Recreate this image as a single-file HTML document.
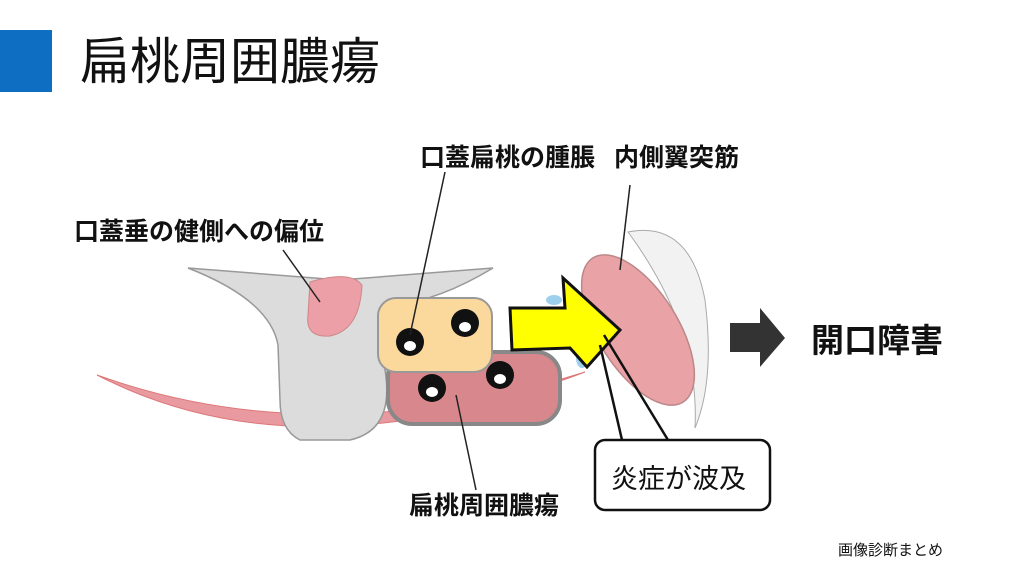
<!DOCTYPE html>
<html><head><meta charset="utf-8"><style>
body{margin:0;width:1024px;height:576px;background:#fff;overflow:hidden;font-family:"Liberation Sans","Noto Sans CJK JP",sans-serif}
</style></head><body>
<svg width="1024" height="576" viewBox="0 0 1024 576" xmlns="http://www.w3.org/2000/svg" style="position:absolute;left:0;top:0">
<rect x="0" y="30" width="52" height="62" fill="#0e6ec2"/>
<text x="80" y="79" font-size="50" fill="#111" font-family="Noto Sans CJK JP, sans-serif">扁桃周囲膿瘍</text>
<path d="M97,375 Q300,480 585,372 Q320,455 97,375Z" fill="#e99aa0" stroke="#d77" stroke-width="1"/>
<path d="M188,268 L340,280 L493,268 Q440,300 395,305 Q375,330 385,370 Q395,430 350,440 L300,440 Q280,430 280,400 L278,345 Q270,300 188,268Z" fill="#dcdcdc" stroke="#999" stroke-width="1.5"/>
<path d="M310,282 Q350,270 362,285 Q360,330 330,336 Q305,338 308,315Z" fill="#ec9fa6" stroke="#c88" stroke-width="1"/>
<rect x="388" y="352" width="172" height="72" rx="24" fill="#d8878c" stroke="#888" stroke-width="4"/>
<rect x="378" y="298" width="114" height="74" rx="18" fill="#fbd89c" stroke="#999" stroke-width="2"/>
<ellipse cx="554" cy="300" rx="8" ry="5" fill="#9cd0ec"/>
<ellipse cx="582" cy="358" rx="6" ry="10" fill="#9cd0ec"/>
<path d="M628,232 Q690,220 705,300 Q715,380 695,428 Q700,330 628,232Z" fill="#f2f2f2" stroke="#aaa" stroke-width="1"/>
<ellipse cx="638" cy="330" rx="40" ry="85" transform="rotate(-32 638 330)" fill="#e9a2a6" stroke="#b88" stroke-width="1.5"/>
<path d="M510,308 L565,308 L563,278 L620,330 L587,367 L570,348 L512,350Z" fill="#ffff00" stroke="#111" stroke-width="3"/>
<g fill="#111">
<circle cx="410" cy="342" r="14"/><circle cx="465" cy="323" r="14"/><circle cx="432" cy="388" r="14"/><circle cx="500" cy="375" r="14"/>
</g>
<g fill="#fff"><ellipse cx="410" cy="346" rx="6" ry="5"/><ellipse cx="465" cy="327" rx="6" ry="5"/><ellipse cx="432" cy="392" rx="6" ry="5"/><ellipse cx="500" cy="379" rx="6" ry="5"/></g>
<g stroke="#222" stroke-width="1.5" fill="none">
<line x1="283" y1="250" x2="320" y2="302"/>
<line x1="445" y1="172" x2="410" y2="335"/>
<line x1="630" y1="185" x2="620" y2="270"/>
<line x1="456" y1="395" x2="476" y2="490"/>
</g>
<g stroke="#111" stroke-width="2.5" fill="none">
<polyline points="600,345 622,440"/><polyline points="604,335 668,440"/>
</g>
<rect x="595" y="440" width="175" height="70" rx="10" fill="#fff" stroke="#111" stroke-width="2.5"/>
<text x="611" y="488" font-size="27" fill="#111">炎症が波及</text>
<path d="M730,323 L760,323 L760,308 L785,338 L760,367 L760,352 L730,352Z" fill="#333"/>
<g font-weight="bold" fill="#111">
<text x="811" y="352" font-size="33">開口障害</text>
<text x="74" y="240" font-size="25">口蓋垂の健側への偏位</text>
<text x="420" y="166" font-size="25">口蓋扁桃の腫脹</text>
<text x="614" y="166" font-size="25">内側翼突筋</text>
<text x="409" y="514" font-size="25">扁桃周囲膿瘍</text>
</g>
<text x="838" y="555" font-size="15" fill="#111">画像診断まとめ</text>
</svg>
</body></html>
